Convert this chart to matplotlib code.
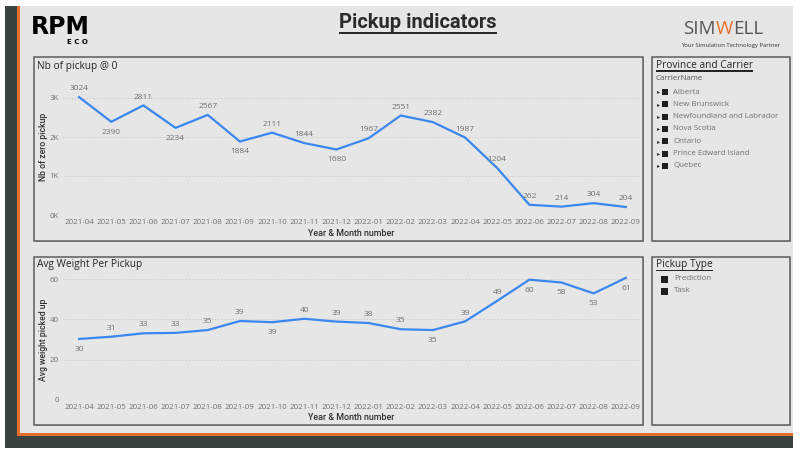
import matplotlib
matplotlib.use("Agg")
import matplotlib.pyplot as plt
from matplotlib.patches import Rectangle
from matplotlib.ticker import FuncFormatter

months = ["2021-04", "2021-05", "2021-06", "2021-07", "2021-08", "2021-09",
          "2021-10", "2021-11", "2021-12", "2022-01", "2022-02", "2022-03",
          "2022-04", "2022-05", "2022-06", "2022-07", "2022-08", "2022-09"]
zero_pickups = [3024, 2390, 2811, 2234, 2567, 1884, 2111, 1844, 1680, 1967,
                2551, 2382, 1987, 1204, 262, 214, 304, 204]
zero_label_pos = ["a", "b", "a", "b", "a", "b", "a", "a", "b", "a",
                  "a", "a", "a", "a", "a", "a", "a", "a"]
avg_weight = [30.3, 31.4, 33.1, 33.3, 34.7, 39.2, 38.6, 40.3, 38.9, 38.2,
              35.1, 34.7, 39.0, 49.2, 59.7, 58.3, 52.9, 60.6]
weight_label_pos = ["b", "a", "a", "a", "a", "a", "b", "a", "a", "a",
                    "a", "b", "a", "a", "b", "b", "b", "b"]
provinces = ["Alberta", "New Brunswick", "Newfoundland and Labrador",
             "Nova Scotia", "Ontario", "Prince Edward Island", "Quebec"]
pickup_types = ["Prediction", "Task"]

W, H = 800, 454
BLUE = "#3b87f0"
PANEL = "#e6e6e6"
DARK = "#3c4240"
ORANGE = "#e66f2c"
FONT = ["Open Sans", "DejaVu Sans"]
COND = ["Roboto", "DejaVu Sans"]

fig = plt.figure(figsize=(W / 100, H / 100), dpi=100, facecolor="white")


def rect(x0, y0, x1, y1):
    # pixel box (top-left origin) -> figure fraction [l, b, w, h]
    return [x0 / W, 1 - y1 / H, (x1 - x0) / W, (y1 - y0) / H]


def box(x0, y0, x1, y1, fc, ec="none", lw=0, z=0):
    l, b, w, h = rect(x0, y0, x1, y1)
    fig.patches.append(Rectangle((l, b), w, h, transform=fig.transFigure,
                                 facecolor=fc, edgecolor=ec, linewidth=lw, zorder=z))


def txt(x, y, s, **kw):
    kw.setdefault("family", FONT)
    return fig.text(x / W, 1 - y / H, s, **kw)


# page frame
box(5, 6, 20, 448, DARK)
box(20, 6, 793, 433, PANEL)
box(17, 6, 20, 436, ORANGE)
box(17, 433, 793, 436, ORANGE)
box(5, 436, 793, 448, DARK)

# visual containers
for x0, y0, x1, y1 in [(34, 57, 643, 241), (34, 257, 643, 425),
                       (652, 57, 790, 241), (652, 257, 790, 425)]:
    box(x0 + 1, y0 + 1, x1 + 1, y1 + 1, "#bdbdbd", z=0.5)
    box(x0, y0, x1, y1, PANEL, ec="#5c5c5c", lw=1.1, z=1)

# header
title = txt(418, 23, "Pickup indicators", ha="center", va="center", fontsize=14.5,
            fontweight="bold", color="#2b2b2b", family=COND)
txt(60, 27, "RPM", ha="center", va="center", fontsize=17, fontweight="bold",
    color="black", family=["DejaVu Sans"])
txt(77, 42, "E C O", ha="center", va="center", fontsize=5, fontweight="bold",
    color="black", family=["DejaVu Sans"])
txt(731, 45, "Your Simulation Technology Partner", ha="center", va="center",
    fontsize=4.2, color="#333333")

fig.canvas.draw()
r = fig.canvas.get_renderer()
xpos = 683
for part, col in [("SIM", "#555555"), ("W", ORANGE), ("ELL", "#555555")]:
    t = txt(xpos, 29, part, ha="left", va="center", fontsize=13.5, color=col,
            family=["Open Sans"])
    xpos += t.get_window_extent(r).width


def line_chart(axrect, values, labels, label_pos, ymax, yticks, yfmt, title_s,
               ylabel_s, title_y, ylabel_y, xlabel_y):
    ax = fig.add_axes(rect(*axrect), zorder=2)
    ax.set_facecolor("none")
    x = list(range(len(values)))
    ax.plot(x, values, color=BLUE, linewidth=1.6, solid_joinstyle="round")
    ax.set_xlim(-0.5, len(values) - 1 + 0.44)
    ax.set_ylim(0, ymax)
    ax.set_yticks(yticks)
    ax.yaxis.set_major_formatter(FuncFormatter(yfmt))
    ax.set_xticks(x)
    ax.set_xticklabels(months)
    ax.grid(axis="y", color="#c4c4c4", linestyle=(0, (1, 2)), linewidth=0.7)
    ax.set_axisbelow(True)
    for s in ax.spines.values():
        s.set_visible(False)
    ax.tick_params(length=0, labelsize=5.7, labelcolor="#707070", pad=3)
    for lab in ax.get_xticklabels() + ax.get_yticklabels():
        lab.set_family(FONT)
    for xi, v, lab, pos in zip(x, values, labels, label_pos):
        dy = 6 if pos == "a" else -7.5
        ax.annotate(lab, (xi, v), xytext=(0, dy), textcoords="offset points",
                    ha="center", va="center", fontsize=6, color="#707070",
                    family=FONT)
    txt(37, title_y, title_s, ha="left", va="center", fontsize=7.3, color="#252525")
    txt(44, ylabel_y, ylabel_s, ha="center", va="center", rotation=90,
        fontsize=6.2, fontweight="medium", color="#303030", family=COND)
    txt(351, xlabel_y, "Year & Month number", ha="center", va="center",
        fontsize=6.4, fontweight="medium", color="#303030", family=COND)
    return ax


line_chart((63, 78.5, 640, 215), zero_pickups, [str(v) for v in zero_pickups],
           zero_label_pos, 3500, [0, 1000, 2000, 3000],
           lambda v, p: f"{int(v / 1000)}K", "Nb of pickup @ 0",
           "Nb of zero pickup", 66, 147, 233)
line_chart((63, 269, 640, 400), avg_weight, [str(round(v)) for v in avg_weight],
           weight_label_pos, 65, [0, 20, 40, 60],
           lambda v, p: f"{int(v)}", "Avg Weight Per Pickup",
           "Avg weight picked up", 265, 340, 418)

# slicers
prov_title = txt(656, 65, "Province and Carrier", ha="left", va="center",
                 fontsize=7.3, color="#252525")
txt(656, 79, "CarrierName", ha="left", va="center", fontsize=5.7, color="#555555")
for i, name in enumerate(provinces):
    y = 92 + i * 12.3
    txt(656.5, y, "\u25b8", ha="left", va="center", fontsize=4.5, color="#333333",
        family=["DejaVu Sans"])
    box(662, y - 3, 668, y + 3, "#1e1e1e", z=3)
    txt(673, y, name, ha="left", va="center", fontsize=5.7, color="#707070")

type_title = txt(656, 264, "Pickup Type", ha="left", va="center", fontsize=7.3,
                 color="#252525")
for i, name in enumerate(pickup_types):
    y = 279 + i * 12
    box(661, y - 3.5, 668, y + 3.5, "#1e1e1e", z=3)
    txt(674, y, name, ha="left", va="center", fontsize=5.7, color="#707070")

# underlines for header texts, as thin bars under each text's box
fig.canvas.draw()
for t, thick in [(title, 1.8), (prov_title, 1.0), (type_title, 1.0)]:
    bb = t.get_window_extent(r)
    ytop = H - bb.y0
    box(bb.x0, ytop, bb.x1, ytop + thick, t.get_color(), z=5)

fig.savefig("out.png", dpi=100, facecolor="white")
